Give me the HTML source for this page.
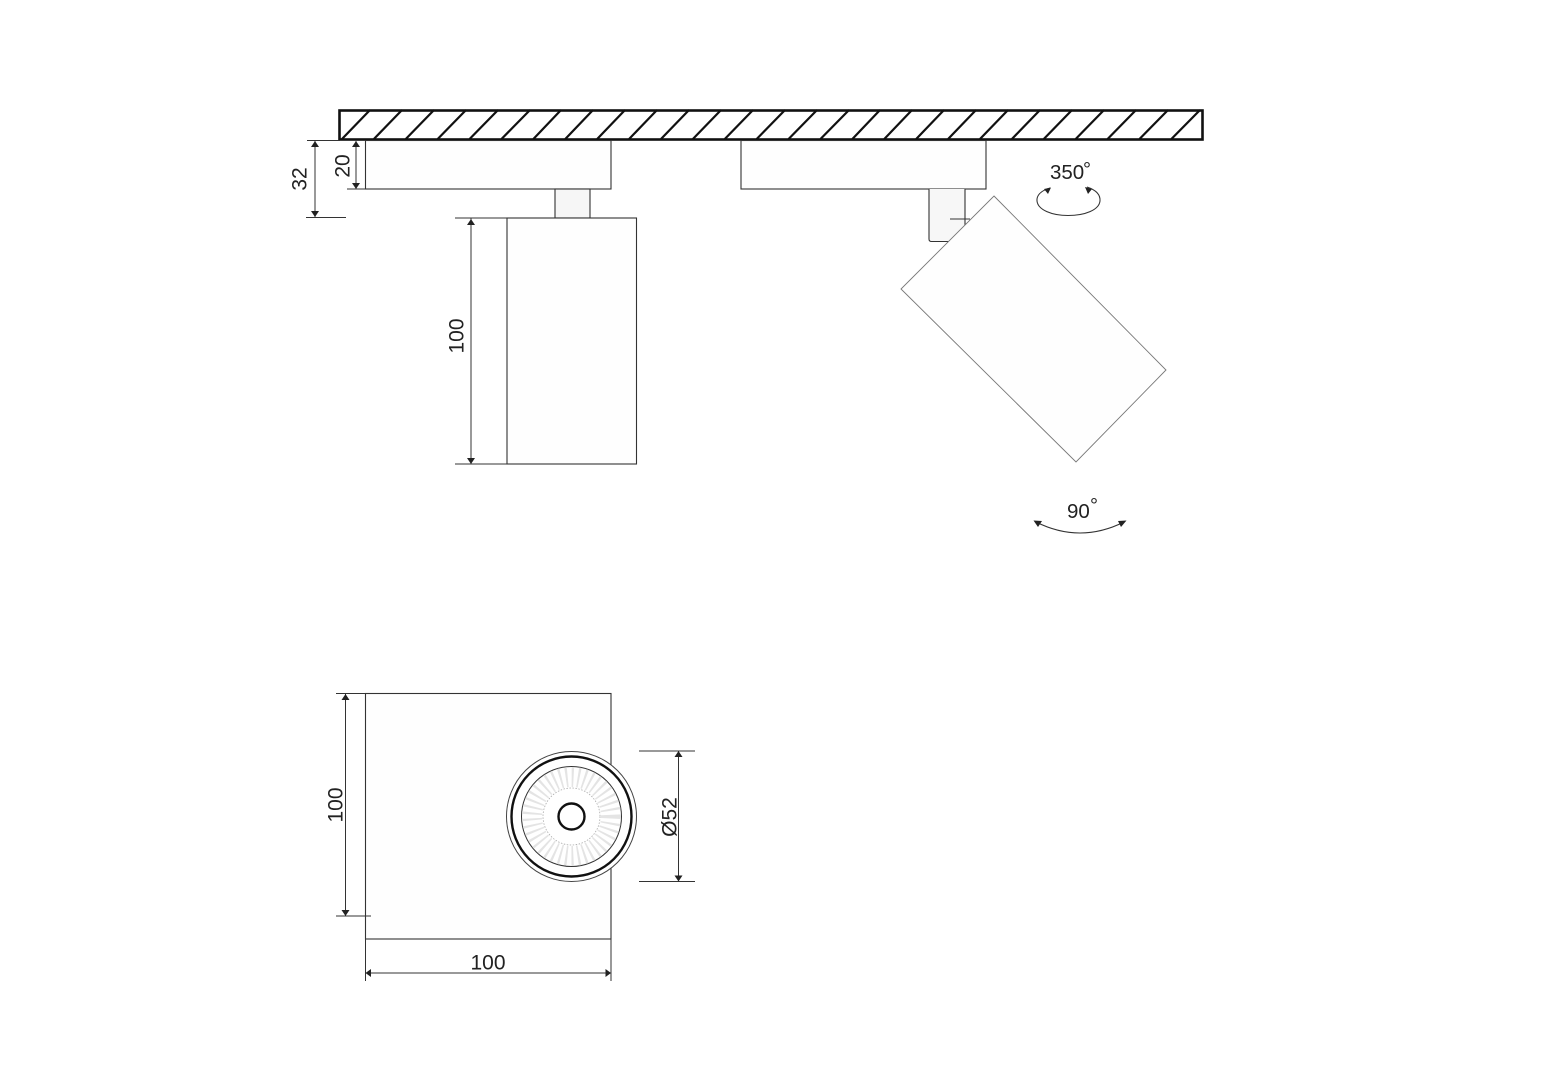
<!DOCTYPE html>
<html><head><meta charset="utf-8"><style>html,body{margin:0;padding:0;background:#fff}svg{display:block}text{font-family:"Liberation Sans",sans-serif;fill:#222}</style></head>
<body>
<svg xmlns="http://www.w3.org/2000/svg" width="1543" height="1080" viewBox="0 0 1543 1080">
<defs>
<path id="up" d="M0 0L-4 6H4Z" fill="#222"/>
<path id="dn" d="M0 0L-4 -6H4Z" fill="#222"/>
</defs>
<rect width="1543" height="1080" fill="#fff"/>

<!-- ceiling -->
<g stroke="#111" stroke-width="2.200" fill="none">
<path d="M342 139L370 110M373.900 139L402 110M405.800 139L434 110M437.700 139L466 110M469.600 139L498 110M501.500 139L530 110M533.400 139L561 110M565.300 139L593 110M597.200 139L625 110M629.100 139L657 110M661 139L689 110M692.900 139L721 110M724.800 139L753 110M756.700 139L785 110M788.600 139L817 110M820.500 139L849 110M852.400 139L880 110M884.300 139L912 110M916.200 139L944 110M948.100 139L976 110M980 139L1008 110M1011.900 139L1040 110M1043.800 139L1072 110M1075.700 139L1104 110M1107.600 139L1136 110M1139.500 139L1168 110M1171.400 139L1200 110"/>
</g>
<rect x="339.500" y="110.500" width="863" height="29" fill="none" stroke="#111" stroke-width="2.600"/>

<!-- left luminaire side view -->
<g stroke="#333" stroke-width="1.100">
<rect x="365.500" y="140.500" width="245.500" height="48.500" fill="#fefefe"/>
<rect x="555" y="189" width="35" height="29" fill="#f6f6f6"/>
<rect x="507" y="218" width="129.500" height="246" fill="#fefefe"/>
</g>

<!-- right luminaire side view -->
<g stroke="#333" stroke-width="1.100">
<rect x="741" y="140.500" width="245" height="48.500" fill="#fefefe"/>
<path d="M929 189V239Q929 241.500 931.500 241.500H965V189" fill="#f7f7f7"/>
<path d="M950 219H970" fill="none"/>
<path d="M994 196L1166 370L1076 462L901 289Z" fill="#fefefe" stroke="#777" stroke-width=".9"/>
</g>

<!-- dimensions side view -->
<g stroke="#333" stroke-width="1" fill="none">
<path d="M307 140.500H340M306 217.500H346M347 189H365M455 218H507M455 464H507"/>
<path d="M315 141V217M356 141V189M471 218V464"/>
</g>
<use href="#up" x="315" y="141"/><use href="#dn" x="315" y="217"/>
<use href="#up" x="356" y="141"/><use href="#dn" x="356" y="189"/>
<use href="#up" x="471" y="219"/><use href="#dn" x="471" y="464"/>
<text transform="translate(306.500 179) rotate(-90)" text-anchor="middle" font-size="21">32</text>
<text transform="translate(349.500 166) rotate(-90)" text-anchor="middle" font-size="21">20</text>
<text transform="translate(463.500 336) rotate(-90)" text-anchor="middle" font-size="21">100</text>

<!-- rotation labels -->
<text x="1050" y="179" font-size="20.500">350</text>
<text x="1083" y="176" font-size="20">°</text>
<path d="M1050 188C1040 191 1036.500 196 1037 201C1038 210 1052 215.500 1068 215.500C1085 215.500 1099 210 1100 201C1100.500 195 1096 190 1087 187" fill="none" stroke="#333" stroke-width="1.100"/>
<path d="M1051 187.500L1044 189L1048 194Z M1085 187L1092 189L1088 194Z" fill="#222"/>
<text x="1067" y="518" font-size="20.500">90</text>
<text x="1090" y="512" font-size="20">°</text>
<path d="M1036 522Q1080 544 1124 522" fill="none" stroke="#333" stroke-width="1.100"/>
<path d="M1033.500 520.500L1042 521L1038 527Z M1126.500 520.500L1118 521L1121 527Z" fill="#222"/>

<!-- plan view -->
<rect x="365.500" y="693.500" width="245.500" height="245.500" fill="#fefefe" stroke="#333" stroke-width="1.100"/>
<circle cx="571.500" cy="816.500" r="65" fill="#fff" stroke="#444" stroke-width="1"/>
<circle cx="571.500" cy="816.500" r="60" fill="#fff" stroke="#111" stroke-width="2.400"/>
<circle cx="571.500" cy="816.500" r="50" fill="#fff" stroke="#333" stroke-width="1"/>
<circle cx="571.500" cy="816.500" r="39.500" fill="none" stroke="#e4e4e4" stroke-width="20" stroke-dasharray="2 4"/>
<circle cx="571.500" cy="816.500" r="28.500" fill="#fff" stroke="#aaa" stroke-width=".8" stroke-dasharray="1.500 1.500"/>
<circle cx="571.500" cy="816.500" r="13" fill="#fff" stroke="#111" stroke-width="2.400"/>

<!-- dimensions plan view -->
<g stroke="#333" stroke-width="1" fill="none">
<path d="M336 693.500H365M336 916H371M639 751H695M639 881.500H695"/>
<path d="M345.500 694V916M678.500 751V881.500"/>
<path d="M365.500 939V981M611 939V981M366 973H611"/>
</g>
<use href="#up" x="345.500" y="694"/><use href="#dn" x="345.500" y="916"/>
<use href="#up" x="678.500" y="751"/><use href="#dn" x="678.500" y="881.500"/>
<path d="M365.500 973L371 969V977Z M611 973L605.500 969V977Z" fill="#222"/>
<text transform="translate(342.500 805) rotate(-90)" text-anchor="middle" font-size="21">100</text>
<text transform="translate(676.500 817) rotate(-90)" text-anchor="middle" font-size="21">Ø52</text>
<text x="488" y="969.500" text-anchor="middle" font-size="21">100</text>
</svg>
</body></html>
